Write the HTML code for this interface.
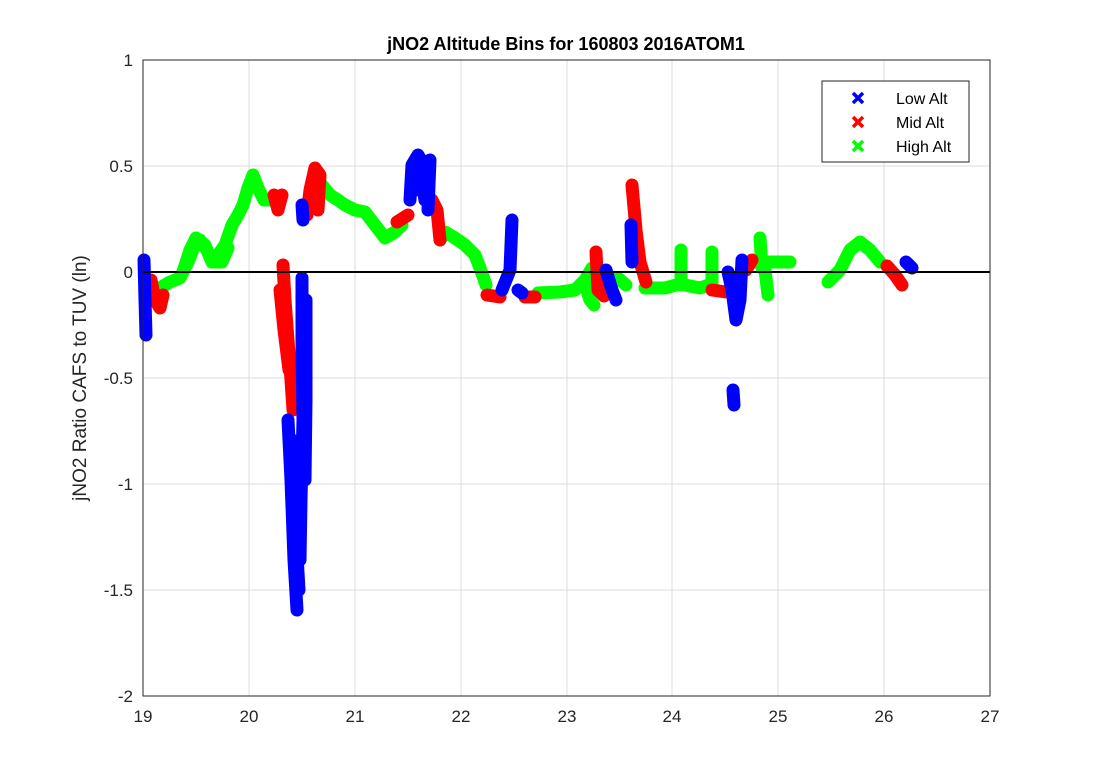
<!DOCTYPE html>
<html><head><meta charset="utf-8"><style>
body{margin:0;background:#fff;}
svg{display:block;font-family:"Liberation Sans",Arial,sans-serif;}
</style></head><body>
<svg width="1094" height="781" viewBox="0 0 1094 781">
<rect width="1094" height="781" fill="#fff"/>
<g stroke="#dcdcdc" stroke-width="1">
<line x1="249" y1="60" x2="249" y2="696"/><line x1="355" y1="60" x2="355" y2="696"/>
<line x1="461" y1="60" x2="461" y2="696"/><line x1="567" y1="60" x2="567" y2="696"/>
<line x1="672" y1="60" x2="672" y2="696"/><line x1="778" y1="60" x2="778" y2="696"/>
<line x1="884" y1="60" x2="884" y2="696"/>
<line x1="143" y1="166" x2="990" y2="166"/><line x1="143" y1="378" x2="990" y2="378"/>
<line x1="143" y1="484" x2="990" y2="484"/><line x1="143" y1="590" x2="990" y2="590"/>
</g>
<g fill="none" stroke-linecap="round" stroke-linejoin="round">
<g stroke="#00ff00" stroke-width="13">
<polyline points="160,288 170,282 180,278 188,262 195,245 200,240 207,250 212,262 218,255 225,245 232,225 238,215 243,205 248,188 253,175 258,188 264,200 270,200"/>
<polyline points="183,272 190,250 196,238 205,245 212,262 222,262 228,248"/>
<polyline points="322,185 330,195 338,200 345,205 355,210 365,212 375,225 385,238 395,232 402,225"/>
<polyline points="440,240 445,232 455,238 465,245 475,255 480,268 486,285"/>
<polyline points="538,293 560,292 575,290 585,280 592,268"/>
<polyline points="585,285 590,300 594,305"/>
<polyline points="618,278 626,285"/>
<polyline points="645,288 665,288 680,284 700,288 712,284"/>
<polyline points="681,250 681,285"/><polyline points="712,252 712,285"/>
<polyline points="755,262 770,262 790,262"/>
<polyline points="760,238 762,268"/><polyline points="765,270 768,295"/>
<polyline points="828,282 840,270 850,250 860,242 870,250 880,262"/>
</g>
<g stroke="#ff0000" stroke-width="13">
<polyline points="151,280 155,300 160,308 163,295"/>
<polyline points="274,195 278,210 282,195"/>
<polyline points="283,265 285,300 288,340 291,380 293,410"/>
<polyline points="280,290 284,330 289,370"/>
<polyline points="307,215 310,190 315,168 320,175 318,210"/>
<polyline points="397,222 408,215"/>
<polyline points="425,200 432,200 437,210 440,240"/>
<polyline points="487,295 500,297"/>
<polyline points="525,297 535,297"/>
<polyline points="596,252 598,290 604,296"/>
<polyline points="632,185 636,230 640,262 646,282"/>
<polyline points="712,290 726,292"/>
<polyline points="746,270 752,260"/>
<polyline points="887,266 895,275 902,285"/>
</g>
<g stroke="#0000ff" stroke-width="13">
<polyline points="144,260 145,300 146,335"/>
<polyline points="288,420 291,480 294,560 297,610"/>
<polyline points="292,440 295,520 299,590"/>
<polyline points="302,278 302,350 303,420 301,500 300,560"/>
<polyline points="306,300 306,400 305,480"/>
<polyline points="302,205 303,220"/>
<polyline points="410,200 412,165 418,155 424,165 430,160 428,210"/>
<polyline points="415,190 420,170 425,200"/>
<polyline points="502,290 506,280 510,270 512,220"/>
<polyline points="518,290 522,293"/>
<polyline points="606,270 612,290 616,300"/>
<polyline points="631,225 632,262"/>
<polyline points="728,272 732,290 736,320 740,300 742,260"/>
<polyline points="733,390 734,405"/>
<polyline points="906,262 912,268"/>
</g>
</g>
<line x1="143" y1="272" x2="990" y2="272" stroke="#000" stroke-width="2"/>
<rect x="143" y="60" width="847" height="636" fill="none" stroke="#262626" stroke-width="1"/>
<g font-size="17" fill="#262626" text-anchor="middle">
<text x="143" y="722">19</text><text x="249" y="722">20</text><text x="355" y="722">21</text>
<text x="461" y="722">22</text><text x="567" y="722">23</text><text x="672" y="722">24</text>
<text x="778" y="722">25</text><text x="884" y="722">26</text><text x="990" y="722">27</text>
</g>
<g font-size="17" fill="#262626" text-anchor="end">
<text x="133" y="66">1</text><text x="133" y="172">0.5</text><text x="133" y="278">0</text>
<text x="133" y="384">-0.5</text><text x="133" y="490">-1</text><text x="133" y="596">-1.5</text>
<text x="133" y="702">-2</text>
</g>
<text x="566" y="50" font-size="18" font-weight="bold" text-anchor="middle" fill="#000">jNO2 Altitude Bins for 160803 2016ATOM1</text>
<text transform="translate(86,378) rotate(-90)" font-size="19" text-anchor="middle" fill="#262626">jNO2 Ratio CAFS to TUV (ln)</text>
<rect x="822" y="81" width="147" height="81" fill="#fff" stroke="#262626"/>
<g font-size="16" fill="#000">
<text x="896" y="104">Low Alt</text><text x="896" y="128">Mid Alt</text><text x="896" y="152">High Alt</text>
</g>
<g stroke-width="3.5">
<path d="M853,93 L863,103 M863,93 L853,103" stroke="#0000ff"/>
<path d="M853,117 L863,127 M863,117 L853,127" stroke="#ff0000"/>
<path d="M853,141 L863,151 M863,141 L853,151" stroke="#00ff00"/>
</g>
</svg>
</body></html>
